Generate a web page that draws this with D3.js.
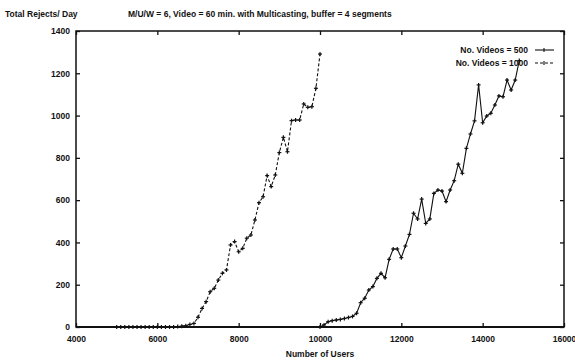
<!DOCTYPE html>
<html>
<head>
<meta charset="utf-8">
<script src="https://cdn.jsdelivr.net/npm/d3@7"></script>
<style>
  html, body { margin: 0; padding: 0; background: #fff; }
  svg { display: block; }
  text { font-family: "Liberation Sans", Arial, sans-serif; font-weight: bold; fill: #111; }
</style>
</head>
<body>
<svg id="chart" width="575" height="363"></svg>
<script>
// Total rejects per day versus number of users
const seriesNames = ["No. Videos = 500", "No. Videos = 1000"];

// No. Videos = 1000 (dashed)
const usersB = [5000,5100,5200,5300,5400,5500,5600,5700,5800,5900,6000,6100,6200,6300,6400,6500,6600,6700,
  6800,6900,7000,7100,7200,7300,7400,7500,7600,7700,7800,7900,8000,8100,8200,8300,8400,8500,8600,8700,8800,
  8900,9000,9100,9200,9300,9400,9500,9600,9700,9800,9900,10000];
const rejectsB = [0,0,0,0,0,0,0,0,0,0,0,0,0,0,0,2,4,6,
  12,17,46,88,120,167,183,222,254,270,388,404,356,372,420,435,506,588,616,716,664,
  719,825,897,829,976,979,979,1055,1039,1042,1129,1291];

// No. Videos = 500 (solid)
const usersA = [10000,10100,10200,10300,10400,10500,10600,10700,10800,10900,11000,11100,11200,11300,11400,
  11500,11600,11700,11800,11900,12000,12100,12200,12300,12400,12500,12600,12700,12800,12900,13000,13100,
  13200,13300,13400,13500,13600,13700,13800,13900,14000,14100,14200,14300,14400,14500,14600,14700,14800,14900];
const rejectsA = [0,10,25,30,33,36,40,45,50,65,115,136,175,191,230,
  254,233,320,369,369,328,383,438,538,511,605,490,511,632,648,643,593,
  648,692,770,727,845,913,975,1145,966,998,1011,1050,1093,1089,1168,1121,1168,1260];

const xTicks = [4000, 6000, 8000, 10000, 12000, 14000, 16000];
const yTicks = [0, 200, 400, 600, 800, 1000, 1200, 1400];

const svg = d3.select("#chart");
const m = { left: 76, right: 564, top: 31, bottom: 327 };

const x = d3.scaleLinear().domain([4000, 16000]).range([m.left, m.right]);
const y = d3.scaleLinear().domain([0, 1400]).range([m.bottom, m.top]);

// frame
svg.append("rect")
  .attr("x", m.left).attr("y", m.top)
  .attr("width", m.right - m.left).attr("height", m.bottom - m.top)
  .attr("fill", "none").attr("stroke", "#111").attr("stroke-width", 1.5);
svg.append("line")
  .attr("x1", m.left).attr("x2", m.right).attr("y1", m.bottom).attr("y2", m.bottom)
  .attr("stroke", "#111").attr("stroke-width", 2);

// axes with inward ticks on all four sides
const fontSize = "8.5px";
const styleAxis = g => {
  g.select(".domain").remove();
  g.selectAll(".tick line").attr("stroke", "#111").attr("stroke-width", 1.3);
  g.selectAll(".tick text").style("font-size", fontSize).attr("fill", "#111");
};
svg.append("g").attr("transform", `translate(0,${m.bottom})`)
  .call(d3.axisBottom(x).tickValues(xTicks).tickFormat(d3.format("d")).tickSizeInner(-4).tickPadding(9))
  .call(styleAxis);
svg.append("g").attr("transform", `translate(0,${m.top})`)
  .call(d3.axisTop(x).tickValues(xTicks).tickFormat("").tickSizeInner(-4))
  .call(styleAxis);
svg.append("g").attr("transform", `translate(${m.left},0)`)
  .call(d3.axisLeft(y).tickValues(yTicks).tickFormat(d3.format("d")).tickSizeInner(-4).tickPadding(6))
  .call(styleAxis);
svg.append("g").attr("transform", `translate(${m.right},0)`)
  .call(d3.axisRight(y).tickValues(yTicks).tickFormat("").tickSizeInner(-4))
  .call(styleAxis);

// series lines
const line = d3.line().x(d => x(d[0])).y(d => y(d[1]));
const dataA = d3.zip(usersA, rejectsA);
const dataB = d3.zip(usersB, rejectsB);

function drawSeries(data, dash) {
  svg.append("path").datum(data)
    .attr("d", line)
    .attr("fill", "none").attr("stroke", "#111").attr("stroke-width", 1.1)
    .attr("stroke-dasharray", dash);
  const mk = svg.append("g").attr("stroke", "#111").attr("stroke-width", 1.2);
  data.forEach(d => {
    const cx = x(d[0]), cy = y(d[1]);
    mk.append("line").attr("x1", cx - 2).attr("x2", cx + 2).attr("y1", cy).attr("y2", cy);
    mk.append("line").attr("x1", cx).attr("x2", cx).attr("y1", cy - 2).attr("y2", cy + 2);
  });
}
drawSeries(dataA, null);
drawSeries(dataB, "3,2");

// legend
const legend = svg.append("g");
[[seriesNames[0], null, 50], [seriesNames[1], "3,2", 63]].forEach(([label, dash, ly]) => {
  legend.append("text").attr("x", 528).attr("y", ly + 3)
    .attr("text-anchor", "end").style("font-size", fontSize).text(label);
  legend.append("line").attr("x1", 535).attr("x2", 554).attr("y1", ly).attr("y2", ly)
    .attr("stroke", "#111").attr("stroke-width", 1.1).attr("stroke-dasharray", dash);
  legend.append("line").attr("x1", 544).attr("x2", 544).attr("y1", ly - 2).attr("y2", ly + 2)
    .attr("stroke", "#111").attr("stroke-width", 1.1);
});

// titles
svg.append("text").attr("x", 5).attr("y", 17).style("font-size", fontSize).text("Total Rejects/ Day");
svg.append("text").attr("x", 128).attr("y", 17).style("font-size", fontSize)
  .text("M/U/W = 6, Video = 60 min. with Multicasting, buffer = 4 segments");
svg.append("text").attr("x", (m.left + m.right) / 2).attr("y", 357)
  .attr("text-anchor", "middle").style("font-size", fontSize).text("Number of Users");
</script>
</body>
</html>
